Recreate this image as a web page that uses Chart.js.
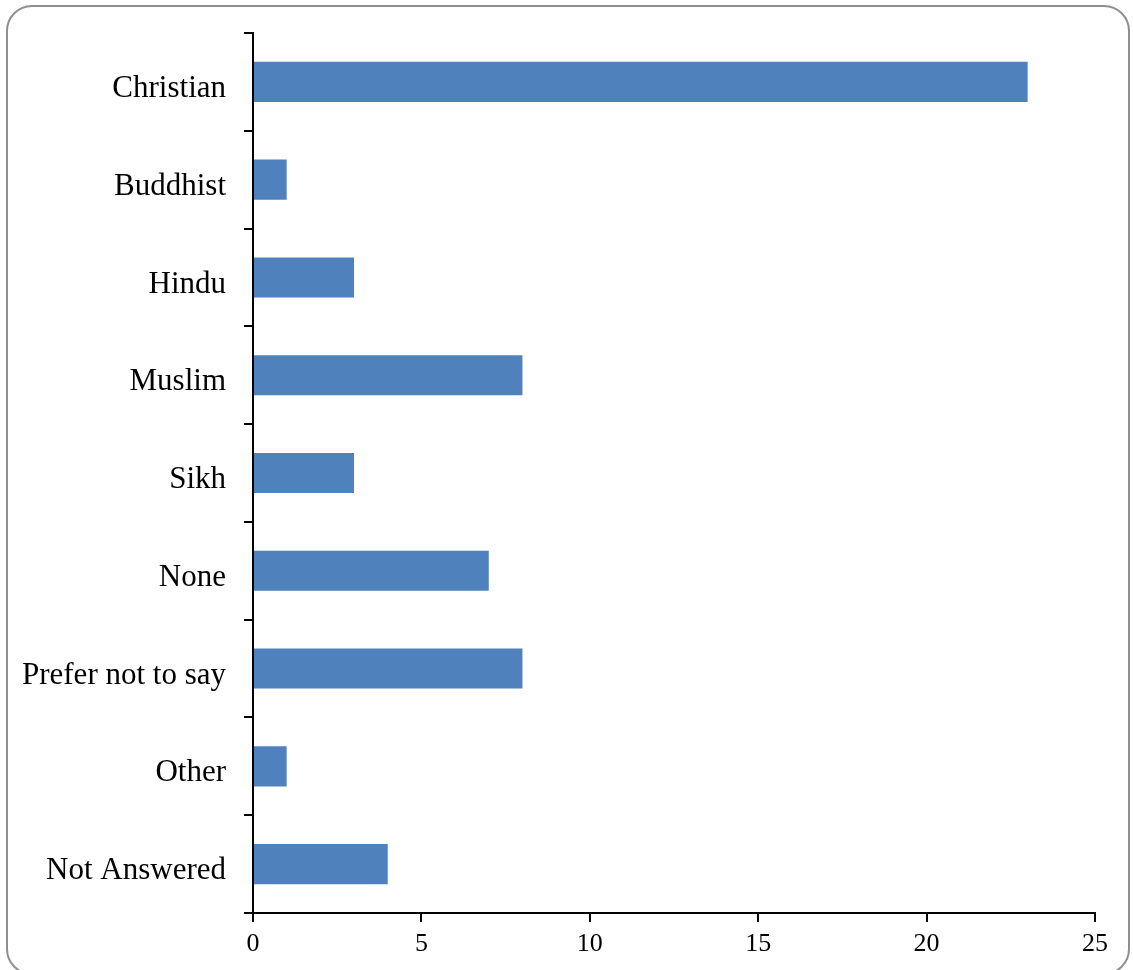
<!DOCTYPE html>
<html>
<head>
<meta charset="utf-8">
<script src="https://cdn.jsdelivr.net/npm/chart.js@4"></script>
<style>
  html, body { margin: 0; padding: 0; background: #fff; }
  #frame {
    position: absolute; left: 6px; top: 5px; width: 1124px; height: 970px;
    border: 2px solid #8e8e8e; border-radius: 26px; box-sizing: border-box;
  }
  #wrap { position: absolute; left: 0; top: 0; width: 1133px; height: 970px; }
</style>
</head>
<body>
<div id="frame"></div>
<div id="wrap"><canvas id="chart"></canvas></div>
<script>
  const categories = ["Christian", "Buddhist", "Hindu", "Muslim", "Sikh", "None", "Prefer not to say", "Other", "Not Answered"];
  const counts = [23, 1, 3, 8, 3, 7, 8, 1, 4];
  const xTicks = [0, 5, 10, 15, 20, 25];

  const serif = "'Liberation Serif', 'DejaVu Serif', serif";

  const ctx = document.getElementById("chart").getContext("2d");
  new Chart(ctx, {
    type: "bar",
    data: {
      labels: categories,
      datasets: [{
        data: counts,
        backgroundColor: "#4f81bd",
        borderWidth: 0,
        barPercentage: 0.41,
        categoryPercentage: 1
      }]
    },
    options: {
      indexAxis: "y",
      responsive: true,
      maintainAspectRatio: false,
      animation: false,
      layout: { padding: { top: 33, right: 38, left: 0, bottom: 0 } },
      plugins: { legend: { display: false }, tooltip: { enabled: false } },
      scales: {
        x: {
          min: 0,
          max: 25,
          afterBuildTicks: s => { s.ticks = xTicks.map(v => ({ value: v })); },
          afterFit: s => { s.height = 57; },
          border: { display: true, color: "#000", width: 2 },
          grid: { display: true, drawOnChartArea: false, color: "#000", lineWidth: 2, tickLength: 9 },
          ticks: { color: "#000", font: { family: serif, size: 26 }, padding: 7 }
        },
        y: {
          afterFit: s => { s.width = 253; s.paddingTop = 0; s.paddingBottom = 0; },
          border: { display: true, color: "#000", width: 2 },
          grid: { display: true, offset: true, drawOnChartArea: false, color: "#000", lineWidth: 2, tickLength: 9 },
          ticks: { color: "#000", font: { family: serif, size: 31 }, padding: 18, labelOffset: 7 }
        }
      }
    }
  });
</script>
</body>
</html>
